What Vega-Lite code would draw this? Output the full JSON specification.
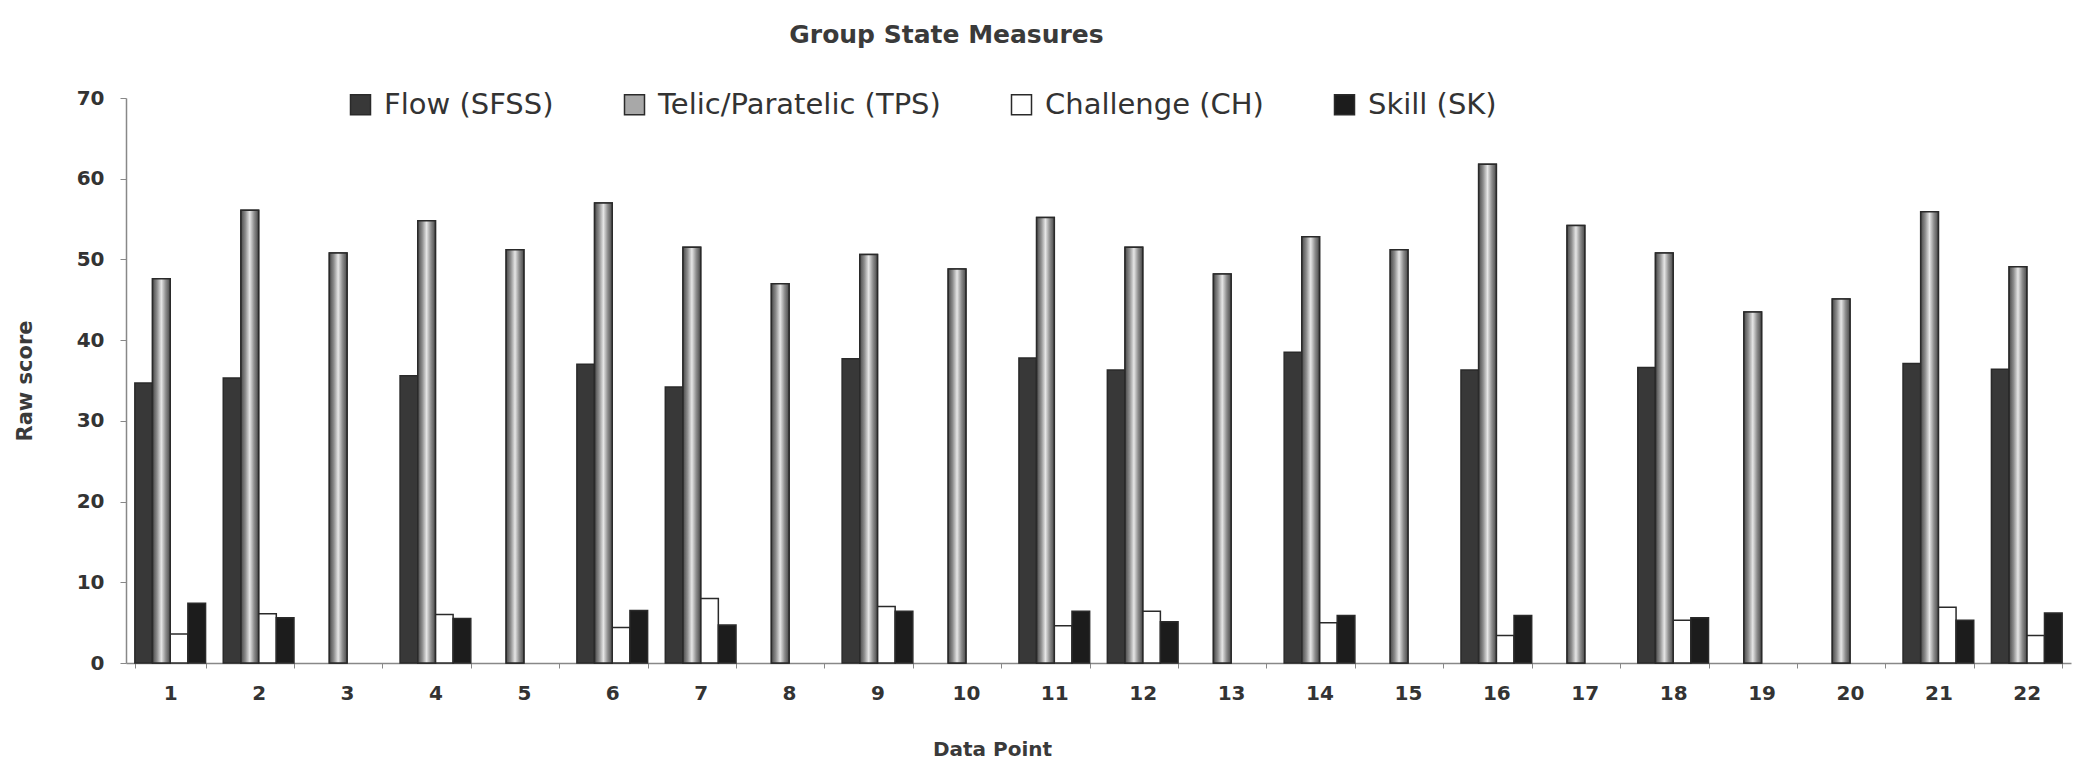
{
  "$schema": "https://vega.github.io/schema/vega-lite/v6.json",
  "width": 1945,
  "height": 565,
  "autosize": {"type": "none"},
  "padding": {"left": 126, "top": 98, "right": 12, "bottom": 98},
  "background": "white",
  "config": {
    "font": "DejaVu Sans",
    "view": {"stroke": null}
  },
  "title": {
    "text": "Group State Measures",
    "fontSize": 25,
    "fontWeight": "bold",
    "color": "#3a3a3a",
    "frame": "group",
    "anchor": "middle",
    "dx": -152,
    "offset": 40
  },
  "data": {
    "values": [
      {"point": "1", "measure": "Flow (SFSS)", "value": 34.7},
      {"point": "1", "measure": "Telic/Paratelic (TPS)", "value": 47.6},
      {"point": "1", "measure": "Challenge (CH)", "value": 3.6},
      {"point": "1", "measure": "Skill (SK)", "value": 7.4},
      {"point": "2", "measure": "Flow (SFSS)", "value": 35.3},
      {"point": "2", "measure": "Telic/Paratelic (TPS)", "value": 56.1},
      {"point": "2", "measure": "Challenge (CH)", "value": 6.1},
      {"point": "2", "measure": "Skill (SK)", "value": 5.6},
      {"point": "3", "measure": "Telic/Paratelic (TPS)", "value": 50.8},
      {"point": "4", "measure": "Flow (SFSS)", "value": 35.6},
      {"point": "4", "measure": "Telic/Paratelic (TPS)", "value": 54.8},
      {"point": "4", "measure": "Challenge (CH)", "value": 6.0},
      {"point": "4", "measure": "Skill (SK)", "value": 5.5},
      {"point": "5", "measure": "Telic/Paratelic (TPS)", "value": 51.2},
      {"point": "6", "measure": "Flow (SFSS)", "value": 37.0},
      {"point": "6", "measure": "Telic/Paratelic (TPS)", "value": 57.0},
      {"point": "6", "measure": "Challenge (CH)", "value": 4.4},
      {"point": "6", "measure": "Skill (SK)", "value": 6.5},
      {"point": "7", "measure": "Flow (SFSS)", "value": 34.2},
      {"point": "7", "measure": "Telic/Paratelic (TPS)", "value": 51.5},
      {"point": "7", "measure": "Challenge (CH)", "value": 8.0},
      {"point": "7", "measure": "Skill (SK)", "value": 4.7},
      {"point": "8", "measure": "Telic/Paratelic (TPS)", "value": 47.0},
      {"point": "9", "measure": "Flow (SFSS)", "value": 37.7},
      {"point": "9", "measure": "Telic/Paratelic (TPS)", "value": 50.6},
      {"point": "9", "measure": "Challenge (CH)", "value": 7.0},
      {"point": "9", "measure": "Skill (SK)", "value": 6.4},
      {"point": "10", "measure": "Telic/Paratelic (TPS)", "value": 48.8},
      {"point": "11", "measure": "Flow (SFSS)", "value": 37.8},
      {"point": "11", "measure": "Telic/Paratelic (TPS)", "value": 55.2},
      {"point": "11", "measure": "Challenge (CH)", "value": 4.6},
      {"point": "11", "measure": "Skill (SK)", "value": 6.4},
      {"point": "12", "measure": "Flow (SFSS)", "value": 36.3},
      {"point": "12", "measure": "Telic/Paratelic (TPS)", "value": 51.5},
      {"point": "12", "measure": "Challenge (CH)", "value": 6.4},
      {"point": "12", "measure": "Skill (SK)", "value": 5.1},
      {"point": "13", "measure": "Telic/Paratelic (TPS)", "value": 48.2},
      {"point": "14", "measure": "Flow (SFSS)", "value": 38.5},
      {"point": "14", "measure": "Telic/Paratelic (TPS)", "value": 52.8},
      {"point": "14", "measure": "Challenge (CH)", "value": 5.0},
      {"point": "14", "measure": "Skill (SK)", "value": 5.9},
      {"point": "15", "measure": "Telic/Paratelic (TPS)", "value": 51.2},
      {"point": "16", "measure": "Flow (SFSS)", "value": 36.3},
      {"point": "16", "measure": "Telic/Paratelic (TPS)", "value": 61.8},
      {"point": "16", "measure": "Challenge (CH)", "value": 3.4},
      {"point": "16", "measure": "Skill (SK)", "value": 5.9},
      {"point": "17", "measure": "Telic/Paratelic (TPS)", "value": 54.2},
      {"point": "18", "measure": "Flow (SFSS)", "value": 36.6},
      {"point": "18", "measure": "Telic/Paratelic (TPS)", "value": 50.8},
      {"point": "18", "measure": "Challenge (CH)", "value": 5.3},
      {"point": "18", "measure": "Skill (SK)", "value": 5.6},
      {"point": "19", "measure": "Telic/Paratelic (TPS)", "value": 43.5},
      {"point": "20", "measure": "Telic/Paratelic (TPS)", "value": 45.1},
      {"point": "21", "measure": "Flow (SFSS)", "value": 37.1},
      {"point": "21", "measure": "Telic/Paratelic (TPS)", "value": 55.9},
      {"point": "21", "measure": "Challenge (CH)", "value": 6.9},
      {"point": "21", "measure": "Skill (SK)", "value": 5.3},
      {"point": "22", "measure": "Flow (SFSS)", "value": 36.4},
      {"point": "22", "measure": "Telic/Paratelic (TPS)", "value": 49.1},
      {"point": "22", "measure": "Challenge (CH)", "value": 3.4},
      {"point": "22", "measure": "Skill (SK)", "value": 6.2}
    ]
  },
  "encoding": {
    "x": {
      "field": "point",
      "type": "ordinal",
      "sort": ["1","2","3","4","5","6","7","8","9","10","11","12","13","14","15","16","17","18","19","20","21","22"],
      "scale": {"paddingInner": 0.2, "paddingOuter": 0.1},
      "axis": {
        "title": "Data Point",
        "titleFontSize": 20,
        "titleFontWeight": "bold",
        "titleColor": "#3a3a3a",
        "titlePadding": 36,
        "titleX": 866,
        "labelAngle": 0,
        "labelFontSize": 20,
        "labelFontWeight": "bold",
        "labelColor": "#333333",
        "labelPadding": 15,
        "tickBand": "extent",
        "tickColor": "#888888",
        "tickSize": 5,
        "domainColor": "#888888",
        "domainWidth": 1.5
      }
    },
    "xOffset": {
      "field": "measure",
      "sort": ["Flow (SFSS)", "Telic/Paratelic (TPS)", "Challenge (CH)", "Skill (SK)"],
      "scale": {"paddingInner": 0}
    },
    "y": {
      "field": "value",
      "type": "quantitative",
      "scale": {"domain": [0, 70]},
      "axis": {
        "title": "Raw score",
        "titleFontSize": 21,
        "titleFontWeight": "bold",
        "titleColor": "#3a3a3a",
        "titlePadding": 41,
        "values": [0, 10, 20, 30, 40, 50, 60, 70],
        "grid": false,
        "labelFontSize": 20,
        "labelFontWeight": "bold",
        "labelColor": "#333333",
        "labelPadding": 16,
        "tickColor": "#888888",
        "tickSize": 6,
        "domainColor": "#888888",
        "domainWidth": 1.5
      }
    }
  },
  "layer": [
    {
      "mark": {"type": "bar", "stroke": "#2a2a2a", "strokeWidth": 1.5},
      "encoding": {
        "color": {
          "field": "measure",
          "type": "nominal",
          "sort": ["Flow (SFSS)", "Telic/Paratelic (TPS)", "Challenge (CH)", "Skill (SK)"],
          "scale": {
            "domain": ["Flow (SFSS)", "Telic/Paratelic (TPS)", "Challenge (CH)", "Skill (SK)"],
            "range": ["#383838", "#a8a8a8", "#ffffff", "#1c1c1c"]
          },
          "legend": {
            "title": null,
            "orient": "none",
            "legendX": 220,
            "legendY": -8,
            "padding": 0,
            "direction": "horizontal",
            "symbolType": "square",
            "symbolSize": 400,
            "symbolStrokeColor": "#2a2a2a",
            "symbolStrokeWidth": 1.5,
            "labelFont": "DejaVu Sans",
            "labelFontSize": 29,
            "labelColor": "#333333",
            "labelOffset": 9,
            "columnPadding": 66,
            "labelLimit": 500
          }
        }
      }
    },
    {
      "transform": [{"filter": "datum.measure === 'Telic/Paratelic (TPS)'"}],
      "mark": {
        "type": "bar",
        "stroke": "#2a2a2a",
        "strokeWidth": 1.5,
        "color": {
          "gradient": "linear",
          "x1": 0, "x2": 1, "y1": 0, "y2": 0,
          "stops": [
            {"offset": 0, "color": "#4a4a4a"},
            {"offset": 0.25, "color": "#8c8c8c"},
            {"offset": 0.5, "color": "#e6e6e6"},
            {"offset": 0.75, "color": "#8c8c8c"},
            {"offset": 1, "color": "#4a4a4a"}
          ]
        }
      }
    }
  ]
}
